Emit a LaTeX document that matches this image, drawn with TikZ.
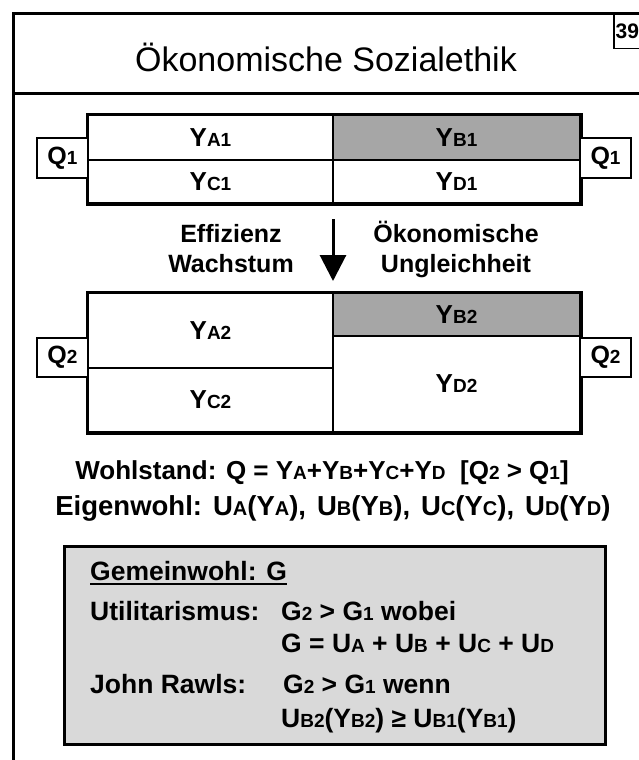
\documentclass[tikz,border=0pt]{standalone}
\usepackage{fontspec}
\setmainfont{Liberation Sans}
\usetikzlibrary{arrows.meta}
\newcommand{\sx}[1]{{\fontsize{19}{19}\selectfont #1}}
\newcommand{\sxe}[1]{{\fontsize{20}{20}\selectfont #1}}
\definecolor{cellgray}{HTML}{A6A6A6}
\definecolor{boxgray}{HTML}{D9D9D9}
\begin{document}
\begin{tikzpicture}[x=1pt,y=-1pt,
  txt/.style={font=\fontsize{26.5}{30}\selectfont\bfseries, inner sep=0pt},
  cell/.style={draw=black, line width=1.5pt, inner sep=0pt, font=\fontsize{26}{30}\selectfont\bfseries},
  qbox/.style={draw=black, line width=1.2pt, inner sep=0pt, fill=white, minimum width=51pt, font=\fontsize{25}{30}\selectfont\bfseries},
  frame/.style={line width=3pt},
  outer/.style={line width=3.5pt}
]
\useasboundingbox (0,0) rectangle (639,760);
\clip (0,0) rectangle (639,760);

% frame
\coordinate (ftl) at (13,14);
\coordinate (ftr) at (645,14);
\coordinate (fbl) at (13,765);
\coordinate (sl) at (13,93);
\coordinate (sr) at (645,93);
\draw[frame] (ftr) -- (ftl) -- (fbl);
\draw[frame] (sl) -- (sr);
\node[draw=black, line width=1.5pt, minimum width=40pt, minimum height=34pt, anchor=north west, inner sep=0pt] (pbox) at (613,14) {};
\node[font=\fontsize{21}{21}\selectfont\bfseries, anchor=west, inner sep=0pt] (pnum) at (615.5,31) {39};

% title
\node[font=\fontsize{34}{36}\selectfont, inner sep=0pt] (title) at (326,57) {Ökonomische Sozialethik};

% table 1
\node[cell, minimum width=245pt, minimum height=45pt] (a1) at (210.5,137.5) {Y\sx{A1}};
\node[cell, fill=cellgray, minimum width=247pt, minimum height=45pt] (b1) at (456.5,137.5) {Y\sx{B1}};
\node[cell, minimum width=245pt, minimum height=43pt] (c1) at (210.5,181.5) {Y\sx{C1}};
\node[cell, minimum width=247pt, minimum height=43pt] (d1) at (456.5,181.5) {Y\sx{D1}};
\draw[outer] (a1.north west) rectangle (d1.south east);
\node[qbox, minimum height=40pt] (q1l) at (62.5,158) {Q\sx{1}};
\node[qbox, minimum height=40pt] (q1r) at (605.5,158) {Q\sx{1}};

% arrow and labels
\coordinate (arS) at (333,219);
\coordinate (arE) at (333,281);
\draw[line width=3pt, -{Triangle[width=26pt,length=26pt]}] (arS) -- (arE);
\node[txt, font=\fontsize{25}{30}\selectfont\bfseries, align=center] (eff) at (231,249) {Effizienz\\Wachstum};
\node[txt, font=\fontsize{25}{30}\selectfont\bfseries, align=center] (oek) at (456,249) {Ökonomische\\Ungleichheit};

% table 2
\node[cell, minimum width=245pt, minimum height=75pt] (a2) at (210.5,330.5) {Y\sx{A2}};
\node[cell, minimum width=245pt, minimum height=64pt] (c2) at (210.5,400) {Y\sx{C2}};
\node[cell, fill=cellgray, minimum width=247pt, minimum height=43pt] (b2) at (456.5,314.5) {Y\sx{B2}};
\node[cell, minimum width=247pt, minimum height=96pt] (d2) at (456.5,384) {Y\sx{D2}};
\draw[outer] (a2.north west) rectangle (d2.south east);
\node[qbox, minimum height=39pt] (q2l) at (62.5,357.5) {Q\sx{2}};
\node[qbox, minimum height=39pt] (q2r) at (605.5,357.5) {Q\sx{2}};

% formulas
\node[txt, font=\fontsize{26}{30}\selectfont\bfseries, anchor=base] (wohl) at (322,479) {Wohlstand: Q = Y\sx{A}+Y\sx{B}+Y\sx{C}+Y\sx{D}\ \ [Q\sx{2} > Q\sx{1}]};
\node[txt, font=\fontsize{27.5}{30}\selectfont\bfseries, anchor=base] (eigen) at (333,515) {Eigenwohl:\hspace{0.4em}U\sxe{A}(Y\sxe{A}),\hspace{0.4em}U\sxe{B}(Y\sxe{B}),\hspace{0.4em}U\sxe{C}(Y\sxe{C}),\hspace{0.4em}U\sxe{D}(Y\sxe{D})};

% gray box
\node[draw=black, line width=2.5pt, fill=boxgray, minimum width=541pt, minimum height=198pt, anchor=north west, inner sep=0pt] (gbox) at (63,545) {};
\node[txt, anchor=base west] (gem) at (90,580) {Gemeinwohl: G};
\draw[line width=1.8pt] ([yshift=-4pt]gem.base west) -- ([yshift=-4pt]gem.base east);
\node[txt, anchor=base west] (util) at (90,620) {Utilitarismus:};
\node[txt, anchor=base west] (u1) at (281,620) {G\sx{2} > G\sx{1} wobei};
\node[txt, anchor=base west] (u2) at (281,652) {G = U\sx{A} + U\sx{B} + U\sx{C} + U\sx{D}};
\node[txt, anchor=base west] (rawls) at (90,693) {John Rawls:};
\node[txt, anchor=base west] (r1) at (283,693) {G\sx{2} > G\sx{1} wenn};
\node[txt, anchor=base west] (r2) at (281,727) {U\sx{B2}(Y\sx{B2}) ≥ U\sx{B1}(Y\sx{B1})};
\end{tikzpicture}
\end{document}
